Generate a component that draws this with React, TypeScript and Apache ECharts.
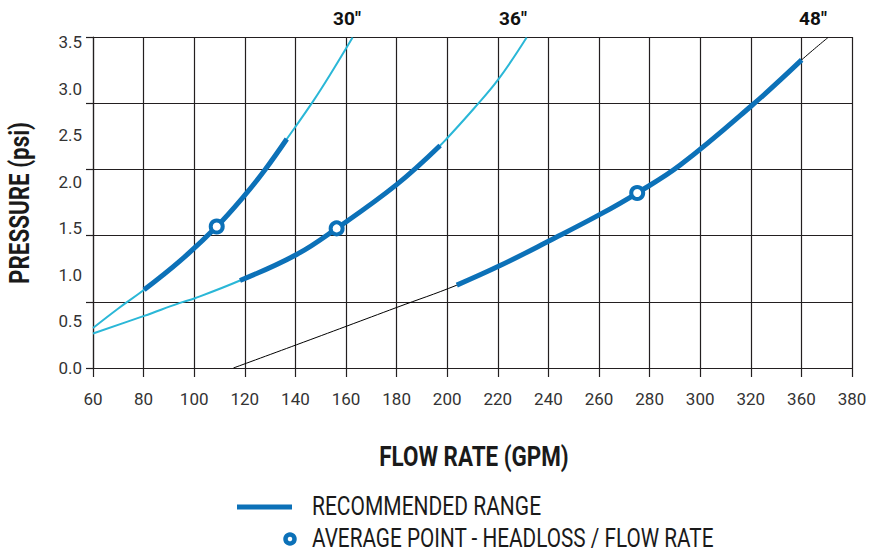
import React, { useEffect, useRef } from "react";
import * as echarts from "echarts";

// X tick labels exactly as printed on the reference (note: no "340")
const xTickLabels = ["60", "80", "100", "120", "140", "160", "180", "200", "220", "240", "260", "280", "300", "320", "360", "380"];
const yTickLabels = ["0.0", "0.5", "1.0", "1.5", "2.0", "2.5", "3.0", "3.5"];

// 30" screen: full curve and recommended range
const curve30Full: number[][] = [
  [60, 0.43], [70, 0.64], [80.2, 0.84], [94.4, 1.15], [108.9, 1.52], [120.1, 1.86],
  [128, 2.13], [136.6, 2.46], [147.1, 2.87], [153.7, 3.15], [162.6, 3.55],
];
const curve30Range: number[][] = [
  [80.2, 0.84], [94.4, 1.15], [108.9, 1.52], [120.1, 1.86], [128, 2.13], [136.6, 2.46],
];

// 36" screen
const curve36Full: number[][] = [
  [60, 0.37], [80.2, 0.56], [94.4, 0.70], [100.3, 0.75], [118.1, 0.94], [140.5, 1.22],
  [156.3, 1.50], [180, 1.97], [197.2, 2.39], [199.7, 2.46], [210.3, 2.78], [220.2, 3.10], [231.4, 3.55],
];
const curve36Range: number[][] = [
  [118.1, 0.94], [140.5, 1.22], [156.3, 1.50], [180, 1.97], [197.2, 2.39],
];

// 48" screen
const curve48Full: number[][] = [
  [115.5, 0], [140.5, 0.25], [160.3, 0.45], [180, 0.65], [203.8, 0.89], [220.9, 1.10],
  [240.6, 1.37], [260.4, 1.65], [275.1, 1.88], [292.1, 2.18], [320.4, 2.82], [340.1, 3.31], [350.5, 3.55],
];
const curve48Range: number[][] = [
  [203.8, 0.89], [220.9, 1.10], [240.6, 1.37], [260.4, 1.65], [275.1, 1.88], [292.1, 2.18],
  [320.4, 2.82], [340.1, 3.31],
];

// Average points (headloss / flow rate)
const averagePoints: number[][] = [[108.9, 1.52], [156.3, 1.50], [275.1, 1.88]];

const sizeLabels = ['30"', '36"', '48"'];
const legendLabels = ["RECOMMENDED RANGE", "AVERAGE POINT - HEADLOSS / FLOW RATE"];

const BLUE = "#0c71b8";
const CYAN = "#2ab7d7";
const GRID = "#231f20";

export default function App() {
  const ref = useRef<HTMLDivElement>(null);

  useEffect(() => {
    if (!ref.current) return;
    const chart = echarts.init(ref.current, undefined, { renderer: "svg" });

    const thin = (data: number[][], color: string, width: number) => ({
      type: "line",
      yAxisIndex: 1,
      data,
      smooth: 0.4,
      symbol: "none",
      lineStyle: { color, width },
      z: 3,
      silent: true,
    });
    const thick = (data: number[][]) => ({
      type: "line",
      yAxisIndex: 1,
      data,
      smooth: 0.4,
      symbol: "none",
      lineStyle: { color: BLUE, width: 5, cap: "butt" },
      z: 4,
      silent: true,
    });

    chart.setOption({
      animation: false,
      backgroundColor: "#ffffff",
      grid: { left: 93, right: 18, top: 37, bottom: 185, containLabel: false },
      xAxis: {
        type: "value",
        min: 60,
        max: 360,
        interval: 20,
        axisLine: { show: true, lineStyle: { color: GRID, width: 1.2 } },
        axisTick: { show: true, length: 9, lineStyle: { color: GRID, width: 1.2 } },
        splitLine: { show: true, lineStyle: { color: GRID, width: 1.2 } },
        axisLabel: {
          margin: 22,
          fontFamily: "Roboto",
          fontSize: 17,
          color: "#333",
          formatter: (v: number) => xTickLabels[Math.round((v - 60) / 20)] ?? "",
        },
      },
      yAxis: [
        {
          type: "value",
          min: 0,
          max: 3.5,
          interval: 0.7,
          position: "left",
          axisLine: { show: true, lineStyle: { color: GRID, width: 1.2 } },
          axisTick: { show: true, length: 7, lineStyle: { color: GRID, width: 1.2 } },
          splitLine: { show: true, lineStyle: { color: GRID, width: 1.2 } },
          axisLabel: { show: false },
        },
        {
          type: "value",
          min: 0,
          max: 3.556,
          interval: 0.5,
          position: "left",
          axisLine: { show: false },
          axisTick: { show: false },
          splitLine: { show: false },
          axisLabel: {
            show: true,
            showMaxLabel: false,
            margin: 11,
            fontFamily: "Roboto",
            fontSize: 17,
            color: "#333",
            formatter: (v: number) => yTickLabels[Math.round(v / 0.5)] ?? "",
          },
        },
      ],
      series: [
        thin(curve30Full, CYAN, 2),
        thin(curve36Full, CYAN, 2),
        thin(curve48Full, "#000000", 1),
        thick(curve30Range),
        thick(curve36Range),
        thick(curve48Range),
        {
          type: "scatter",
          yAxisIndex: 1,
          data: averagePoints,
          symbol: "circle",
          symbolSize: 12,
          itemStyle: { color: "#ffffff", borderColor: BLUE, borderWidth: 4, opacity: 1 },
          z: 6,
          silent: true,
        },
      ],
      graphic: [
        { type: "text", x: 347, y: 18, style: { text: sizeLabels[0], fontFamily: "Roboto", fontWeight: "bold", fontSize: 19, fill: "#111", align: "center", verticalAlign: "middle" } },
        { type: "text", x: 513, y: 18, style: { text: sizeLabels[1], fontFamily: "Roboto", fontWeight: "bold", fontSize: 19, fill: "#111", align: "center", verticalAlign: "middle" } },
        { type: "text", x: 813, y: 18, style: { text: sizeLabels[2], fontFamily: "Roboto", fontWeight: "bold", fontSize: 19, fill: "#111", align: "center", verticalAlign: "middle" } },
        {
          type: "text", x: 474, y: 456, scaleX: 0.8,
          style: { text: "FLOW RATE (GPM)", fontFamily: "Roboto", fontWeight: "bold", fontSize: 28, fill: "#1a1a1a", align: "center", verticalAlign: "middle" },
        },
        {
          type: "text", x: 19, y: 203, rotation: Math.PI / 2, scaleX: 0.8,
          style: { text: "PRESSURE (psi)", fontFamily: "Roboto", fontWeight: "bold", fontSize: 28, fill: "#1a1a1a", align: "center", verticalAlign: "middle" },
        },
        { type: "line", shape: { x1: 237, y1: 507, x2: 292, y2: 507 }, style: { stroke: BLUE, lineWidth: 5 } },
        {
          type: "text", x: 312, y: 507, scaleX: 0.84,
          style: { text: legendLabels[0], fontFamily: "Roboto", fontSize: 25, fill: "#1a1a1a", align: "left", verticalAlign: "middle" },
        },
        { type: "circle", x: 290, y: 539, shape: { cx: 0, cy: 0, r: 4.5 }, style: { fill: "#ffffff", stroke: BLUE, lineWidth: 4.5 } },
        {
          type: "text", x: 312, y: 539, scaleX: 0.83,
          style: { text: legendLabels[1], fontFamily: "Roboto", fontSize: 25, fill: "#1a1a1a", align: "left", verticalAlign: "middle" },
        },
      ],
    });

    return () => chart.dispose();
  }, []);

  return <div ref={ref} style={{ width: 870, height: 553, position: "absolute", left: 0, top: 0 }} />;
}
